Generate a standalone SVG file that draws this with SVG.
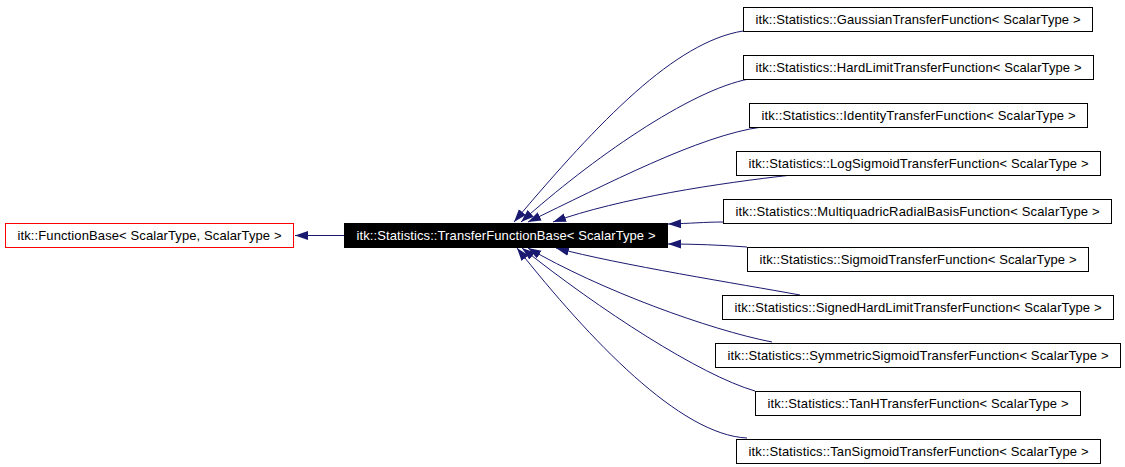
<svg xmlns="http://www.w3.org/2000/svg" width="1125" height="467" viewBox="0 0 1125 467">
<style>
.box{fill:#ffffff;stroke:#000000;stroke-width:1}
.lbl{font-family:"Liberation Sans",Arial,sans-serif;font-size:13px;fill:#000000;text-anchor:middle}
.edge{fill:none;stroke:#191970;stroke-width:1;marker-end:url(#arr)}
</style>
<defs>
<marker id="arr" markerUnits="userSpaceOnUse" markerWidth="13" markerHeight="10" viewBox="0 0 13 10" refX="13" refY="5" orient="auto">
<path d="M0,0.5 L13,5 L0,9.5 z" fill="#191970"/>
</marker>
</defs>
<rect width="1125" height="467" fill="#ffffff"/>
<g id="connectors">
<path class="edge" d="M344,235.5 L295,235.5"/>
<path class="edge" d="M743,31 C675,42 600,120 514,222"/>
<path class="edge" d="M749,79 C690,90 590,160 521,222"/>
<path class="edge" d="M762,127 C700,135 605,185 528,222"/>
<path class="edge" d="M792,175 C720,183 620,198 553,222"/>
<path class="edge" d="M723,222 C705,222 690,223.5 668,224"/>
<path class="edge" d="M747,247 C720,245 695,244 668,244"/>
<path class="edge" d="M800,295 C740,284 620,265 556,248"/>
<path class="edge" d="M772,342 C710,330 600,290 528,248"/>
<path class="edge" d="M755,391 C700,375 600,310 522,248"/>
<path class="edge" d="M747,438 C680,435 590,340 517,248"/>
</g>
<g id="node-functionbase">
<rect x="5.5" y="223.5" width="288" height="24" fill="#ffffff" stroke="#ff0000" stroke-width="1"/>
<text class="lbl" x="149.5" y="240" textLength="264" lengthAdjust="spacing">itk::FunctionBase&lt; ScalarType, ScalarType &gt;</text>
</g>
<g id="node-transferfunctionbase">
<rect x="344.5" y="223.5" width="323" height="24" fill="#000000" stroke="#000000" stroke-width="1"/>
<text class="lbl" x="506" y="240" textLength="299" lengthAdjust="spacing" style="fill:#ffffff">itk::Statistics::TransferFunctionBase&lt; ScalarType &gt;</text>
</g>
<g id="node-gaussian">
<rect class="box" x="743.5" y="7.5" width="349" height="24"/>
<text class="lbl" x="918" y="24" textLength="325" lengthAdjust="spacing">itk::Statistics::GaussianTransferFunction&lt; ScalarType &gt;</text>
</g>
<g id="node-hardlimit">
<rect class="box" x="743.5" y="55.5" width="350" height="24"/>
<text class="lbl" x="918.5" y="72" textLength="326" lengthAdjust="spacing">itk::Statistics::HardLimitTransferFunction&lt; ScalarType &gt;</text>
</g>
<g id="node-identity">
<rect class="box" x="749.5" y="103.5" width="338" height="24"/>
<text class="lbl" x="918.5" y="120" textLength="314" lengthAdjust="spacing">itk::Statistics::IdentityTransferFunction&lt; ScalarType &gt;</text>
</g>
<g id="node-logsigmoid">
<rect class="box" x="736.5" y="151.5" width="364" height="24"/>
<text class="lbl" x="918.5" y="168" textLength="340" lengthAdjust="spacing">itk::Statistics::LogSigmoidTransferFunction&lt; ScalarType &gt;</text>
</g>
<g id="node-multiquadric">
<rect class="box" x="723.5" y="199.5" width="388" height="24"/>
<text class="lbl" x="917.5" y="216" textLength="364" lengthAdjust="spacing">itk::Statistics::MultiquadricRadialBasisFunction&lt; ScalarType &gt;</text>
</g>
<g id="node-sigmoid">
<rect class="box" x="747.5" y="247.5" width="341" height="24"/>
<text class="lbl" x="918" y="264" textLength="317" lengthAdjust="spacing">itk::Statistics::SigmoidTransferFunction&lt; ScalarType &gt;</text>
</g>
<g id="node-signedhardlimit">
<rect class="box" x="722.5" y="295.5" width="391" height="24"/>
<text class="lbl" x="918" y="312" textLength="367" lengthAdjust="spacing">itk::Statistics::SignedHardLimitTransferFunction&lt; ScalarType &gt;</text>
</g>
<g id="node-symmetricsigmoid">
<rect class="box" x="715.5" y="343.5" width="405" height="24"/>
<text class="lbl" x="918" y="360" textLength="381" lengthAdjust="spacing">itk::Statistics::SymmetricSigmoidTransferFunction&lt; ScalarType &gt;</text>
</g>
<g id="node-tanh">
<rect class="box" x="755.5" y="391.5" width="325" height="24"/>
<text class="lbl" x="918" y="408" textLength="301" lengthAdjust="spacing">itk::Statistics::TanHTransferFunction&lt; ScalarType &gt;</text>
</g>
<g id="node-tansigmoid">
<rect class="box" x="736.5" y="439.5" width="364" height="24"/>
<text class="lbl" x="918.5" y="456" textLength="340" lengthAdjust="spacing">itk::Statistics::TanSigmoidTransferFunction&lt; ScalarType &gt;</text>
</g>
</svg>
